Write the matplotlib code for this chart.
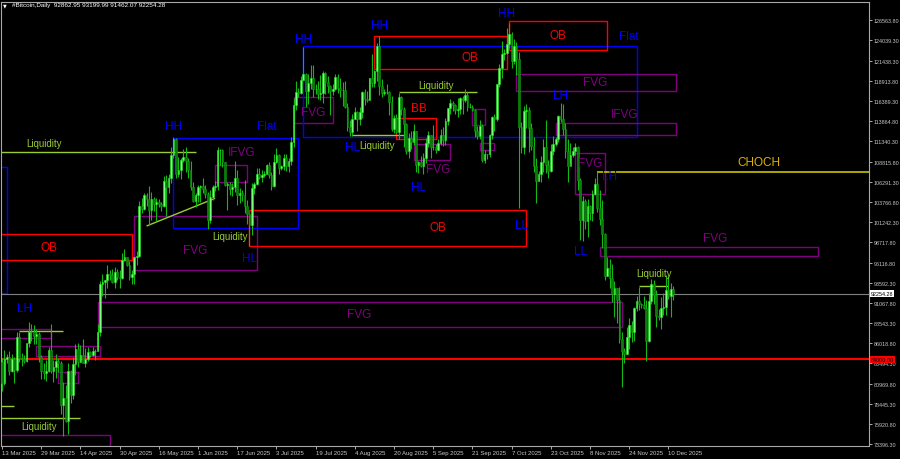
import numpy as np
import pandas as pd
import matplotlib
matplotlib.use("Agg")
import matplotlib.pyplot as plt
import matplotlib.transforms as mtransforms
from matplotlib.patches import Rectangle

plt.rcParams['font.family'] = ['Liberation Sans', 'DejaVu Sans']

# daily bars, thousands USD: (close, high, low)
mar = [(83.7,84.3,82.2),(81.1,84.2,80.0),(84.0,85.2,80.8),(84.3,84.7,83.6),(82.6,85.0,82.0),(84.1,84.7,82.4),
       (82.7,84.3,81.1),(86.8,87.4,82.4),(84.2,87.4,83.7),(84.0,84.8,83.2),(83.8,84.5,83.6),(86.0,86.1,83.7),
       (87.5,88.7,85.6),(87.4,88.5,86.3),(86.9,88.3,85.9),(87.2,87.8,85.9),(84.3,87.5,83.7),(82.6,84.6,81.6),
       (82.3,83.5,81.6),(82.5,83.9,81.3)]
apr = [(85.2,85.5,82.4),(82.5,88.5,82.3),(83.1,83.9,81.2),(83.8,84.7,81.7),(83.5,84.2,82.4),(78.3,83.8,77.2),
       (79.1,81.2,74.4),(76.3,80.8,76.2),(82.6,83.5,74.6),(79.6,82.7,78.5),(83.4,84.3,79.0),(85.3,85.9,82.0),
       (83.7,86.1,83.0),(84.5,85.8,83.7),(83.6,86.5,83.6),(84.0,85.4,83.1),(84.9,85.5,83.8),(84.5,85.1,84.3),
       (85.0,85.6,84.4),(85.1,85.3,83.9),(87.5,88.5,85.1),(93.4,93.8,87.0),(93.7,94.7,91.9),(93.9,94.0,91.7),
       (94.7,95.8,92.9),(94.6,95.2,93.9),(93.7,95.3,93.6),(95.0,95.6,92.9),(94.3,95.4,93.9),(94.2,95.2,92.9)]
may = [(96.5,97.4,94.1),(96.9,97.9,96.3),(95.9,96.9,95.7),(94.3,96.3,94.0),(94.7,95.2,93.5),(96.8,96.9,93.4),
       (97.0,97.6,95.8),(103.2,103.9,96.9),(102.9,104.3,102.3),(104.6,104.9,102.8),(104.1,104.9,103.3),
       (102.8,105.8,100.8),(104.1,105.0,101.5),(103.5,104.4,102.6),(103.7,104.2,101.4),(103.5,104.1,103.1),
       (103.2,103.7,102.6),(106.4,107.0,103.1),(105.6,107.1,102.0),(106.8,107.3,104.9),(109.6,110.7,106.1),
       (111.6,111.9,109.3),(107.3,111.8,106.8),(107.8,109.4,106.9),(109.0,109.2,106.6),(109.4,110.4,108.7),
       (108.9,110.7,107.5),(107.8,109.3,106.8),(105.6,108.9,105.3),(103.9,106.3,103.7),(104.6,104.9,103.1)]
jun = [(105.6,105.9,103.8),(105.8,105.9,103.7),(105.4,106.8,104.9),(104.7,105.9,104.2),(101.5,105.0,100.4),
       (104.4,105.3,101.1),(105.6,105.9,104.0),(105.7,106.4,105.1),(110.2,110.6,105.3),(110.2,110.4,108.4),
       (108.7,110.4,108.1),(105.9,108.8,105.7),(106.0,106.2,102.7),(105.4,106.2,104.6),(105.6,106.1,104.5),
       (106.8,108.9,105.0),(104.6,107.7,103.4),(104.9,105.5,103.6),(104.6,105.3,103.9),(103.3,106.5,102.3),
       (102.2,104.0,101.0),(100.9,102.0,98.2),(105.5,106.1,99.6),(106.0,106.3,104.7),(107.3,108.0,105.9),
       (106.9,108.0,106.6),(107.1,107.8,106.3),(107.3,107.6,106.9),(108.4,108.5,107.2),(107.1,108.8,106.8)]
jul = [(105.7,107.5,105.3),(108.8,109.8,105.6),(109.6,110.5,108.6),(108.0,109.8,107.3),(108.2,108.4,107.8),
       (109.2,109.7,107.8),(108.3,109.7,107.6),(108.9,109.2,107.5),(111.3,111.9,108.4),(115.9,116.8,110.6),
       (117.5,118.9,115.3),(117.4,118.0,116.9),(119.1,119.5,117.3),(119.8,123.2,119.1),(117.7,119.9,115.7),
       (118.7,119.8,116.0),(119.3,120.9,117.9),(117.9,120.9,116.9),(117.9,118.6,117.3),(117.3,118.9,116.6),
       (117.4,119.7,116.5),(119.9,120.2,116.2),(118.8,120.1,117.3),(118.3,119.5,117.4),(117.6,118.4,114.7),
       (117.9,118.5,117.2),(119.4,119.8,117.8),(118.0,119.8,117.4),(117.8,119.3,116.9),(117.8,118.8,115.8),
       (115.7,118.9,115.5)]
aug = [(113.2,116.1,112.7),(112.5,114.0,112.0),(114.2,114.8,112.0),(115.0,115.7,114.1),(114.1,115.1,112.6),
       (115.0,115.7,113.4),(117.5,117.7,114.3),(116.7,117.9,115.9),(116.5,117.7,116.3),(119.3,119.3,116.5),
       (118.7,122.3,118.1),(120.2,120.3,118.2),(123.3,123.7,118.9),(118.3,124.5,117.2),(117.4,119.2,116.9),
       (117.5,117.9,117.2),(117.5,118.6,117.3),(116.3,117.6,114.7),(112.9,117.0,112.7),(114.3,114.6,112.4),
       (112.5,114.8,112.4),(116.9,117.4,111.7),(115.4,117.0,114.6),(113.5,115.6,110.7),(110.1,113.6,109.7),
       (111.8,112.4,109.3),(111.3,112.6,110.4),(112.6,113.5,110.9),(108.4,112.7,107.5),(108.8,108.9,107.4),
       (108.2,109.5,108.1)]
sep = [(109.2,109.9,107.3),(111.2,111.8,108.6),(112.1,112.6,110.6),(110.7,112.2,109.3),(110.7,113.4,110.2),
       (110.2,111.0,109.9),(111.2,111.6,110.2),(112.1,112.9,110.9),(111.5,113.2,110.8),(113.9,114.3,110.9),
       (115.5,115.5,113.4),(116.1,116.7,114.8),(115.9,116.4,115.2),(115.3,116.0,114.8),(115.4,116.8,114.4),
       (116.8,116.9,114.8),(116.5,117.0,114.8),(117.1,117.9,116.3),(115.7,117.5,115.2),(115.7,116.1,115.5),
       (115.3,115.9,115.2),(112.7,115.4,111.9),(112.0,113.3,111.6),(113.3,114.0,111.6),(109.0,113.5,108.7),
       (109.7,110.3,108.6),(109.7,109.8,109.1),(112.1,112.3,109.4),(114.4,114.5,111.6),(114.1,114.8,112.7)]
octo = [(118.6,118.6,113.9),(120.6,121.0,118.1),(122.3,123.9,119.3),(122.4,122.9,121.6),(123.5,125.5,122.3),
        (124.8,126.2,123.1),(121.4,125.1,120.6),(123.3,124.2,121.1),(121.7,123.8,119.7),(113.2,122.5,103.0),
        (110.6,113.8,109.9),(115.2,115.8,109.7),(115.3,116.0,113.0),(113.0,115.6,110.0),(110.8,113.6,110.2),
        (108.2,111.9,107.5),(106.4,109.2,103.6),(107.2,107.6,106.4),(108.7,109.5,106.2),(110.6,111.7,107.5),
        (108.4,114.0,107.4),(107.6,109.0,106.7),(110.1,111.0,107.5),(111.0,112.0,109.6),(111.6,111.9,110.8),
        (114.5,114.6,111.3),(114.1,116.1,113.8),(112.9,116.0,112.2),(110.1,113.6,109.2),(108.3,111.6,106.3),
        (109.6,111.2,108.6)]
nov = [(110.1,110.6,109.4),(110.6,111.2,109.6),(106.5,110.8,105.3),(101.5,106.7,99.0),(103.9,104.5,98.9),
       (101.3,104.1,100.3),(103.3,104.1,99.3),(102.3,103.4,101.5),(104.7,105.2,101.4),(106.0,106.7,104.6),
       (103.0,107.5,102.5),(101.6,105.3,100.8),(99.7,104.0,98.0),(94.4,99.8,94.0),(95.5,96.8,94.6),
       (94.2,96.6,93.0),(92.2,96.0,91.2),(92.9,93.8,89.3),(91.5,93.0,88.6),(86.6,93.1,86.1),(85.1,87.4,80.6),
       (84.7,85.4,83.5),(86.8,88.1,84.7),(88.3,89.2,85.3),(87.4,88.8,86.2),(90.5,90.6,86.3),(91.3,91.9,90.1),
       (90.9,93.1,90.2),(90.8,91.1,90.4),(90.4,92.0,90.3)]
dec = [(86.3,91.4,83.8),(91.3,92.3,86.2),(93.5,94.1,91.0),(92.1,94.0,91.0),(89.4,92.7,88.1),(89.3,90.3,88.9),
       (90.4,91.8,87.8),(90.6,92.3,89.6),(92.7,94.6,89.6),(92.0,94.5,91.6),(92.86295,93.6,89.3),
       (92.25428,93.19999,91.46207)]
first_open = 83.0

# zones: (start, end, top, bottom, colour)
zones = [
    ("2025-03-01", "2025-03-15", 108130, 92330, "blue"),
    ("2025-03-01", "2025-05-05", 99691, 96506, "red"),
    ("2025-05-06", "2025-06-25", 102023, 95214, "purple"),
    ("2025-05-22", "2025-07-12", 111729, 100443, "blue"),
    ("2025-06-08", "2025-06-21", 108343, 106286, "purple"),
    ("2025-06-22", "2025-10-13", 102775, 98185, "red"),
    ("2025-04-21", "2025-11-21", 91164, 88029, "purple"),
    ("2025-03-12", "2025-04-02", 87753, 86649, "purple"),
    ("2025-03-27", "2025-04-22", 85721, 84467, "purple"),
    ("2025-04-05", "2025-04-13", 82424, 81045, "purple"),
    ("2025-03-01", "2025-04-26", 74522, 73143, "purple"),
    ("2025-07-10", "2025-07-26", 116870, 113648, "purple"),
    ("2025-07-14", "2025-11-27", 123266, 111854, "blue"),
    ("2025-08-12", "2025-10-05", 124595, 120419, "red"),
    ("2025-08-21", "2025-09-06", 114275, 111641, "red"),
    ("2025-08-28", "2025-09-12", 110976, 108957, "purple"),
    ("2025-09-21", "2025-09-26", 115403, 113434, "purple"),
    ("2025-09-24", "2025-09-30", 111140, 110300, "purple"),
    ("2025-10-06", "2025-11-15", 126438, 122840, "red"),
    ("2025-10-09", "2025-12-13", 119830, 117660, "purple"),
    ("2025-10-25", "2025-12-13", 113648, 112088, "purple"),
    ("2025-11-02", "2025-11-14", 109886, 104707, "purple"),
    ("2025-11-12", "2026-02-09", 98060, 96932, "purple"),
]

# liquidity / structure lines: (start, end, price_start, price_end, colour)
lines = [
    ("2025-03-01", "2025-05-31", 110011, 110011, "yellowgreen"),
    ("2025-03-20", "2025-04-07", 87502, 87502, "yellowgreen"),
    ("2025-03-01", "2025-03-18", 78200, 78200, "yellowgreen"),
    ("2025-03-01", "2025-04-14", 76654, 76654, "yellowgreen"),
    ("2025-05-11", "2025-06-08", 100731, 104205, "yellowgreen"),
    ("2025-08-03", "2025-08-24", 112088, 112088, "yellowgreen"),
    ("2025-08-22", "2025-09-23", 117573, 117573, "yellowgreen"),
    ("2025-11-28", "2025-12-10", 93170, 93170, "yellowgreen"),
    ("2025-11-11", "2026-03-31", 107541, 107541, "#b8b400"),
]

# text labels: (text, date, price, colour, size)
labels = [
    ("Liquidity", "2025-03-30", 111140, "yellowgreen", 7),
    ("OB", "2025-04-01", 98098, "red", 8.5),
    ("HH", "2025-05-22", 113271, "blue", 8.5),
    ("Flat", "2025-06-29", 113271, "blue", 8.5),
    ("IFVG", "2025-06-19", 110011, "purple", 8.5),
    ("FVG", "2025-05-31", 97780, "purple", 8.5),
    ("Liquidity", "2025-06-14", 99477, "yellowgreen", 7),
    ("HL", "2025-06-22", 96718, "blue", 8.5),
    ("OB", "2025-09-07", 100606, "red", 8.5),
    ("LL", "2025-10-11", 100857, "blue", 8.5),
    ("LH", "2025-03-22", 90449, "blue", 8.5),
    ("FVG", "2025-08-06", 89696, "purple", 8.5),
    ("Liquidity", "2025-03-28", 75651, "yellowgreen", 7),
    ("HH", "2025-07-14", 124181, "blue", 8.5),
    ("FVG", "2025-07-18", 115027, "purple", 8.5),
    ("HH", "2025-08-14", 125937, "blue", 8.5),
    ("OB", "2025-09-20", 121924, "red", 8.5),
    ("Liquidity", "2025-09-06", 118413, "yellowgreen", 7),
    ("BB", "2025-08-30", 115529, "red", 8.5),
    ("HL", "2025-08-03", 110638, "blue", 8.5),
    ("Liquidity", "2025-08-13", 110888, "yellowgreen", 7),
    ("FVG", "2025-09-07", 107879, "purple", 8.5),
    ("HL", "2025-08-30", 105622, "blue", 8.5),
    ("HH", "2025-10-05", 127442, "blue", 8.5),
    ("OB", "2025-10-26", 124683, "red", 8.5),
    ("Flat", "2025-11-24", 124557, "blue", 8.5),
    ("FVG", "2025-11-10", 118789, "purple", 8.5),
    ("LH", "2025-10-27", 117159, "blue", 8.5),
    ("IFVG", "2025-11-22", 114776, "purple", 8.5),
    ("FVG", "2025-11-08", 108631, "purple", 8.5),
    ("CHOCH", "2026-01-16", 108757, "#e0b000", 8.5),
    ("LH", "2025-11-16", 107001, "blue", 8.5),
    ("LL", "2025-11-04", 97596, "blue", 8.5),
    ("FVG", "2025-12-29", 99227, "purple", 8.5),
    ("Liquidity", "2025-12-04", 94837, "yellowgreen", 7),
]

support_level = 84000.00
bid_price = 92254.28
header = "#Bitcoin,Daily  92862.95 93199.99 91462.07 92254.28"

price_ticks = [126563.80, 124039.30, 121438.30, 118913.80, 116389.30, 113864.80, 111340.30, 108815.80,
               106291.30, 103766.80, 101242.30, 98717.80, 96116.80, 93592.30, 91067.80, 88543.30,
               86018.80, 83494.30, 80969.80, 78445.30, 75920.80, 73396.30]
date_ticks = ["2025-03-13", "2025-03-29", "2025-04-14", "2025-04-30", "2025-05-16", "2025-06-01",
              "2025-06-17", "2025-07-03", "2025-07-19", "2025-08-04", "2025-08-20", "2025-09-05",
              "2025-09-21", "2025-10-07", "2025-10-23", "2025-11-08", "2025-11-24", "2025-12-10"]

start = pd.Timestamp("2025-03-12")


def day(d):
    return (pd.Timestamp(d) - start).days


bars = mar + apr + may + jun + jul + aug + sep + octo + nov + dec
closes = np.array([b[0] for b in bars]) * 1000
highs = np.array([b[1] for b in bars]) * 1000
lows = np.array([b[2] for b in bars]) * 1000
opens = np.r_[first_open * 1000, closes[:-1]]
x = np.arange(len(bars))

fig = plt.figure(figsize=(9, 4.6), dpi=100, facecolor="black")
ax = fig.add_axes([1 / 900, 13.5 / 460, 868 / 900, 443.5 / 460])
ax.set_facecolor("black")

# candles
up = closes >= opens
ax.vlines(x, lows, highs, color="#14b814", lw=0.8, zorder=3)
ax.bar(x[up], (closes - opens)[up], bottom=opens[up], width=0.7,
       color="#78ff78", edgecolor="#22e622", lw=0.4, zorder=4)
ax.bar(x[~up], (closes - opens)[~up], bottom=opens[~up], width=0.7,
       color="#0b7a0b", edgecolor="#109a10", lw=0.4, zorder=4)

for s, e, top, bot, col in zones:
    ax.add_patch(Rectangle((day(s), bot), day(e) - day(s), top - bot, fill=False,
                           ec=col, lw=1.0, zorder=2))

for s, e, p0, p1, col in lines:
    ax.plot([day(s), day(e)], [p0, p1], color=col, lw=1.3 if col != "yellowgreen" else 1.0,
            zorder=2, solid_capstyle="butt")

for txt, d, p, col, size in labels:
    ax.text(day(d), p, txt, color=col, fontsize=size, ha="center", va="center", zorder=5)

ax.axhline(support_level, color="red", lw=1.5, zorder=2)
ax.axhline(bid_price, color="#808080", lw=0.8, zorder=2)

ax.set_xlim(0.59, 354.9)
ax.set_ylim(73206, 128821)

ax.yaxis.tick_right()
ax.set_yticks(price_ticks)
ax.set_yticklabels([f"{v:.2f}" for v in price_ticks])
ax.set_xticks([day(d) for d in date_ticks])
ax.set_xticklabels([pd.Timestamp(d).strftime("%-d %b %Y") for d in date_ticks], ha="left")
ax.tick_params(axis="y", colors="#c8c8c8", labelsize=3.9, length=2.5, width=0.6, pad=1)
ax.tick_params(axis="x", colors="#c8c8c8", labelsize=4.3, length=2, width=0.6, pad=1.5)
for sp in ax.spines.values():
    sp.set_color("#a8a8a8")
    sp.set_linewidth(0.8)

blend = mtransforms.blended_transform_factory(ax.transAxes, ax.transData)
ax.text(1.002, bid_price, f"{bid_price:.2f}", transform=blend, fontsize=3.9, color="black",
        va="center", ha="left", clip_on=False, zorder=6,
        bbox=dict(facecolor="white", edgecolor="none", pad=0.8))
ax.text(1.002, support_level, f"{support_level:.2f}", transform=blend, fontsize=3.9, color="black",
        va="center", ha="left", clip_on=False, zorder=6,
        bbox=dict(facecolor="red", edgecolor="none", pad=0.8))

fig.text(3 / 900, 1 - 6 / 460, "\u25bc", color="white", fontsize=3.5, va="center",
         family="DejaVu Sans")
fig.text(12 / 900, 1 - 6 / 460, header, color="white", fontsize=4.6, va="center")

fig.savefig("out.png", dpi=100, facecolor="black")
